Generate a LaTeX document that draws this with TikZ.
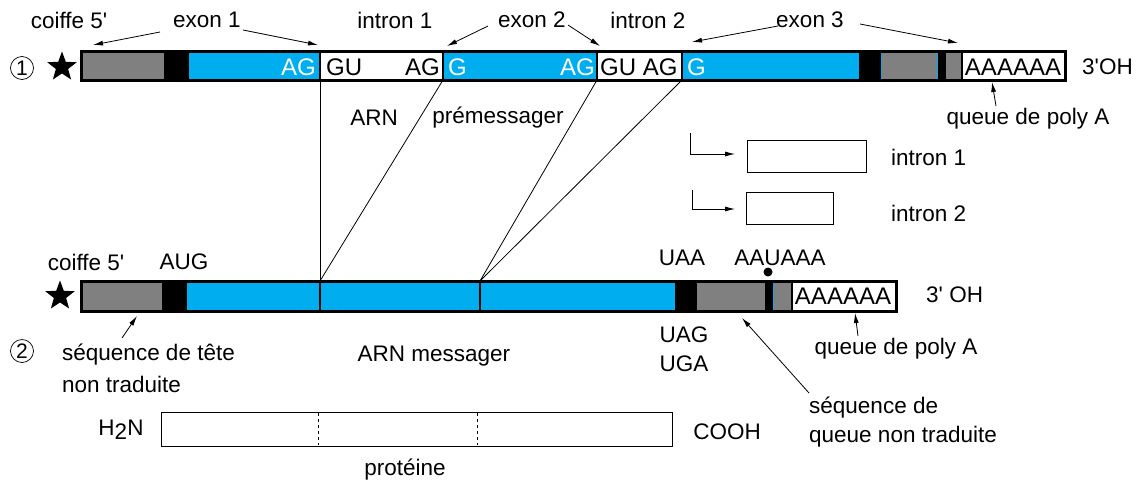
\documentclass[tikz,border=0pt]{standalone}
\usepackage{fontspec}
\setmainfont{Liberation Sans}[Ligatures=TeXOff]
\usetikzlibrary{shapes.geometric,arrows.meta}
\definecolor{cyanb}{HTML}{00AEEF}
\definecolor{grayb}{HTML}{808080}
\begin{document}
\begin{tikzpicture}[x=1pt,y=-1pt,
  lbl/.style={inner sep=0pt,font=\fontsize{22.5}{24}\selectfont},
  big/.style={inner sep=0pt,font=\fontsize{24}{26}\selectfont},
  wbig/.style={big,text=white},
  arr/.style={-{Latex[length=10pt,width=5pt]},line width=0.8pt},
  link/.style={line width=0.8pt},
  div/.style={line width=2pt},
  outline/.style={line width=3pt},
  starnode/.style={star,star points=5,star point ratio=2.4,fill=black,minimum size=31pt,inner sep=0pt},
  num/.style={circle,draw,line width=0.7pt,minimum size=23pt,inner sep=0pt,font=\fontsize{21}{22}\selectfont},
  ibox/.style={draw,line width=1pt}]
\useasboundingbox (0,0) rectangle (1143,485);

% ---------- pre-mRNA bar ----------
\fill[grayb] (81,51) rectangle (164,80);
\fill[black] (164,51) rectangle (189,80);
\fill[cyanb] (189,51) rectangle (320,80);
\fill[white] (320,51) rectangle (443,80);
\fill[cyanb] (443,51) rectangle (597,80);
\fill[white] (597,51) rectangle (682,80);
\fill[cyanb] (682,51) rectangle (859,80);
\fill[black] (859,51) rectangle (881,80);
\fill[grayb] (881,51) rectangle (938,80);
\fill[black] (938,51) rectangle (946,80);
\fill[grayb] (946,51) rectangle (962,80);
\draw[cyanb,line width=1pt] (881.5,52) -- (881.5,79) (937.5,52) -- (937.5,79);
\draw[div] (320,51) -- (320,80) (443,51) -- (443,80) (597,51) -- (597,80) (682,51) -- (682,80) (962,51) -- (962,80);
\draw[outline] (81,51) rectangle (1065,80);

\node[wbig,anchor=east] (t1) at (316,67) {AG};
\node[big,anchor=west] (t2) at (326,67) {GU};
\node[big,anchor=east] (t3) at (440,67) {AG};
\node[wbig,anchor=west] (t4) at (448,67) {G};
\node[wbig,anchor=east] (t5) at (595,67) {AG};
\node[big,anchor=west] (t6) at (600,67) {GU AG};
\node[wbig,anchor=west] (t7) at (687,67) {G};
\node[big] (polyA1) at (1013,67) {AAAAAA};
\node[lbl,anchor=west] (oh1) at (1082,67) {3'OH};
\node[starnode] (star1) at (62,67) {};
\node[num] (n1) at (22,68) {1};

% labels above
\node[lbl] (coiffe1) at (69,20) {coiffe 5'};
\node[lbl] (exon1) at (207,20) {exon 1};
\node[lbl] (intron1) at (395,20) {intron 1};
\node[lbl] (exon2) at (532,20) {exon 2};
\node[lbl] (intron2) at (648,20) {intron 2};
\node[lbl] (exon3) at (810,20) {exon 3};
\coordinate (e1a) at (93,45);
\coordinate (e1b) at (318,45);
\coordinate (e2a) at (447,46);
\coordinate (e2b) at (600,46);
\coordinate (e3a) at (692,42);
\coordinate (e3b) at (958,43);
\draw[arr] (160,32) -- (e1a);
\draw[arr] (243,30) -- (e1b);
\draw[arr] (488,26) -- (e2a);
\draw[arr] (568,25) -- (e2b);
\draw[arr] (778,26) -- (e3a);
\draw[arr] (860,24) -- (e3b);

\node[lbl] (arn) at (374,118) {ARN};
\node[lbl] (prem) at (498,118) {prémessager};
\node[lbl] (qpa1) at (1028,119) {queue de poly A};
\coordinate (pa1) at (992,82);
\draw[arr] (996,106) -- (pa1);

% ---------- excised introns ----------
\node[ibox,minimum width=119pt,minimum height=32pt,inner sep=0pt] (box1) at (806.5,156) {};
\node[ibox,minimum width=87pt,minimum height=32pt,inner sep=0pt] (box2) at (789.5,208) {};
\coordinate (b1s) at (690,133);
\coordinate (b2s) at (692,190);
\draw[-{Latex[length=10pt,width=5pt]},line width=0.8pt] (b1s) |- (735,154);
\draw[-{Latex[length=10pt,width=5pt]},line width=0.8pt] (b2s) |- (735,209);
\node[lbl,anchor=west] (li1) at (891,157) {intron 1};
\node[lbl,anchor=west] (li2) at (891,213) {intron 2};

% ---------- mRNA bar ----------
\fill[grayb] (81,281) rectangle (162,311);
\fill[black] (162,281) rectangle (187,311);
\fill[cyanb] (187,281) rectangle (675,311);
\fill[black] (675,281) rectangle (697,311);
\fill[grayb] (697,281) rectangle (765,311);
\fill[black] (765,281) rectangle (773,311);
\fill[grayb] (773,281) rectangle (792,311);
\draw[cyanb,line width=1pt] (773.5,282) -- (773.5,310);
\draw[div] (320,281) -- (320,311) (480,281) -- (480,311) (792,281) -- (792,311);
\draw[outline] (81,281) rectangle (896,311);
\node[big] (polyA2) at (843,296) {AAAAAA};
\node[lbl,anchor=west] (oh2) at (926,295) {3' OH};
\node[starnode] (star2) at (60,296) {};

% splice connectors
\coordinate (p1) at (320,80);
\coordinate (p2) at (443,80);
\coordinate (p3) at (597,80);
\coordinate (p4) at (682,80);
\coordinate (m1) at (320,281);
\coordinate (m2) at (480,281);
\draw[link] (p1) -- (m1);
\draw[link] (p2) -- (m1);
\draw[link] (p3) -- (m2);
\draw[link] (p4) -- (m2);

% labels of mRNA
\node[lbl] (coiffe2) at (86,262) {coiffe 5'};
\node[lbl] (aug) at (184,262) {AUG};
\node[lbl] (uaa) at (682,258) {UAA};
\node[lbl] (aauaaa) at (780,258) {AAUAAA};
\node[circle,fill=black,inner sep=0pt,minimum size=9pt] (dot) at (768,272) {};
\node[lbl] (uag) at (684,335) {UAG};
\node[lbl] (uga) at (684,364) {UGA};
\node[lbl,anchor=west] (st1) at (62,355) {séquence de tête};
\node[lbl,anchor=west] (st2) at (62,384) {non traduite};
\coordinate (st) at (137,316);
\draw[arr] (122,338) -- (st);
\node[lbl] (arnm) at (434,356) {ARN messager};
\node[lbl] (qpa2) at (896,349) {queue de poly A};
\coordinate (pa2) at (855,313);
\draw[arr] (858,336) -- (pa2);
\node[lbl,anchor=west] (sq1) at (809,408) {séquence de};
\node[lbl,anchor=west] (sq2) at (809,437) {queue non traduite};
\coordinate (sq) at (742,318);
\draw[arr] (809,393) -- (sq);
\node[num] (n2) at (22,351) {2};

% ---------- protein ----------
\draw[line width=1pt] (161,412) rectangle (672,446);
\draw[dashed,line width=0.8pt] (318,413) -- (318,445) (477,413) -- (477,445);
\node[lbl] (h2n) at (121,430) {H\raisebox{-0.3ex}{2}N};
\node[lbl] (cooh) at (727,432) {COOH};
\node[lbl] (prot) at (405,470) {protéine};
\end{tikzpicture}
\end{document}
